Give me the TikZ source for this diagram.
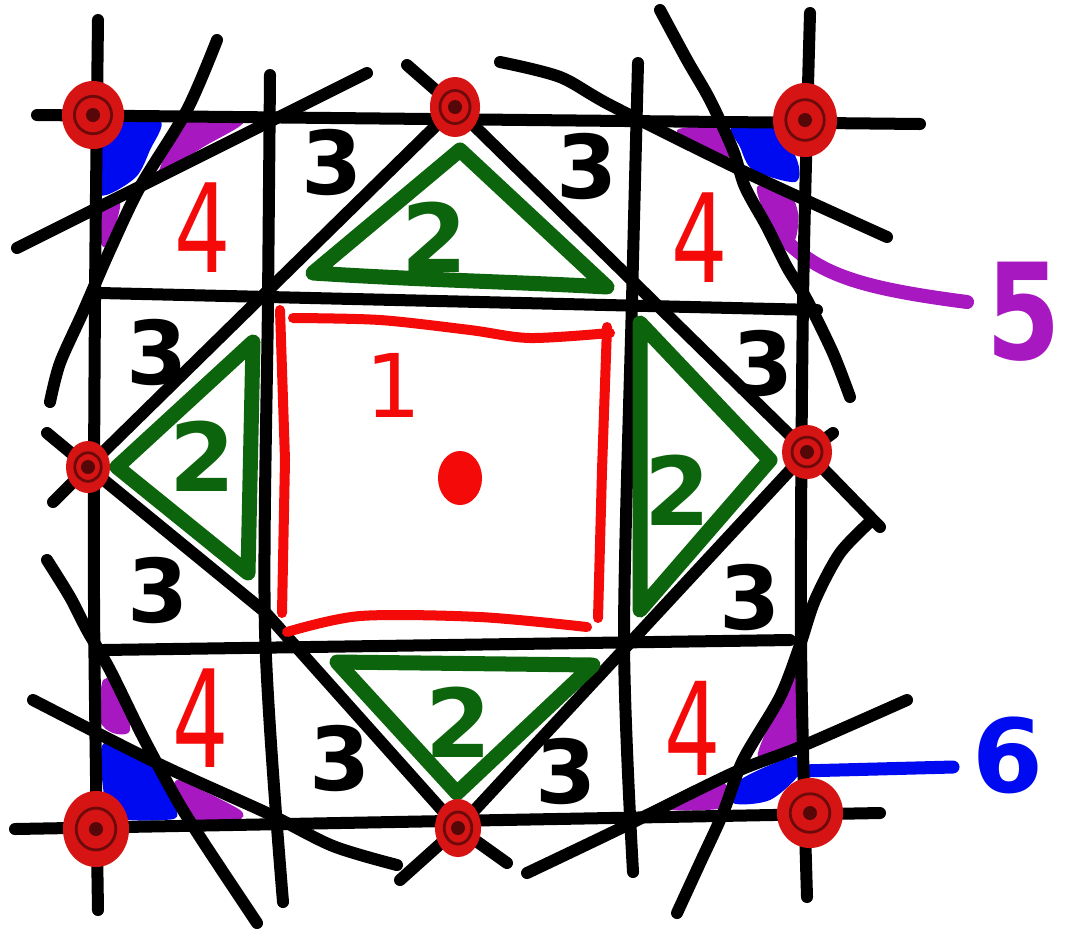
\documentclass[tikz,border=0pt]{standalone}
\usepackage{fontspec}
\setmainfont{DejaVu Sans}
\definecolor{gdark}{RGB}{12,100,12}
\definecolor{glight}{RGB}{40,220,60}
\definecolor{rpen}{RGB}{245,10,10}
\definecolor{rdot}{RGB}{215,20,20}
\definecolor{rcore}{RGB}{110,10,10}
\definecolor{purp}{RGB}{168,24,192}
\definecolor{blu}{RGB}{0,10,240}
\begin{document}
\begin{tikzpicture}[x=0.01cm,y=-0.01cm,
  ink/.style={line width=0.12cm,line cap=round,line join=round,draw=black},
  grn/.style={line width=0.15cm,line cap=round,line join=round,draw=gdark},
  redpen/.style={line width=0.1cm,line cap=round,line join=round,draw=rpen},
  dig/.style={inner sep=0pt,outer sep=0pt},
  three/.style={dig,font=\fontsize{25}{25}\selectfont\bfseries,text=black},
  two/.style={dig,font=\fontsize{27}{27}\selectfont\bfseries,text=gdark},
  four/.style={dig,font=\fontsize{35}{35}\selectfont,text=rpen,xscale=0.72},
  patchp/.style={fill=purp},
  patchb/.style={fill=blu}]
\useasboundingbox (0,0) rectangle (1068,930);
\fill[white] (0,0) rectangle (1068,930);

% key points
\coordinate (T) at (455,107);
\coordinate (L) at (88,467);
\coordinate (B) at (458,828);
\coordinate (R) at (807,452);
\coordinate (TL) at (93,115);
\coordinate (TR) at (805,120);
\coordinate (BL) at (96,829);
\coordinate (BR) at (810,813);

% coloured patches
\fill[patchb] plot[smooth cycle] coordinates {(105,125) (160,121) (150,150) (135,178) (100,195) (96,150)};
\fill[patchp] plot[smooth cycle] coordinates {(160,168) (182,124) (243,122) (205,146) (162,172)};
\fill[patchp] plot[smooth cycle] coordinates {(103,207) (120,203) (114,230) (106,247) (100,240)};

\fill[patchp] plot[smooth cycle] coordinates {(677,130) (723,128) (732,156) (703,152)};
\fill[patchb] plot[smooth cycle] coordinates {(732,127) (773,123) (797,160) (795,182) (753,170) (740,147)};
\fill[patchp] plot[smooth cycle] coordinates {(757,187) (787,190) (798,213) (795,240) (780,247) (770,227)};

\fill[patchp] plot[smooth cycle] coordinates {(103,680) (120,687) (130,730) (113,733) (100,720)};
\fill[patchb] plot[smooth cycle] coordinates {(104,743) (147,760) (177,812) (163,820) (113,817) (103,787)};
\fill[patchp] plot[smooth cycle] coordinates {(177,780) (193,786) (240,810) (237,820) (190,820) (173,793)};

\fill[patchp] plot[smooth cycle] coordinates {(792,672) (805,680) (805,735) (790,748) (758,757) (772,718)};
\fill[patchb] plot[smooth cycle] coordinates {(740,780) (793,757) (800,773) (770,800) (733,803)};
\fill[patchp] plot[smooth cycle] coordinates {(677,800) (723,783) (727,807) (673,810)};

% leaders to 5 and 6
\coordinate (p5) at (783,238);
\coordinate (e5) at (967,302);
\draw[line width=0.14cm,line cap=round,purp] (p5) .. controls (820,275) and (860,288) .. (e5);
\coordinate (p6) at (800,771);
\coordinate (e6) at (953,767);
\draw[line width=0.13cm,line cap=round,blu] (p6) -- (e6);

% grid lines
\draw[ink] (37,115) -- (920,124);
\draw[ink] (100,293) -- (817,310);
\draw[ink] (103,650) -- (790,640);
\draw[ink] (15,829) -- (880,813);
\draw[ink] plot[smooth] coordinates {(98,20) (95,300) (94,600) (98,910)};
\draw[ink] plot[smooth] coordinates {(270,75) (268,300) (265,630) (283,902)};
\draw[ink] plot[smooth] coordinates {(638,63) (632,300) (624,640) (633,872)};
\draw[ink] plot[smooth] coordinates {(810,13) (803,300) (801,640) (807,897)};

% oblique straight-ish lines
\draw[ink] (17,248) -- (367,73);
\draw[ink] plot[smooth] coordinates {(500,62) (560,77) (612,106) (747,173) (887,237)};
\draw[ink] plot[smooth] coordinates {(33,700) (157,763) (267,813) (333,846) (397,865)};
\draw[ink] plot[smooth] coordinates {(527,873) (617,830) (733,773) (800,747) (907,700)};

% curves
\draw[ink] plot[smooth] coordinates {(217,40) (187,110) (140,187) (110,250) (83,312) (60,363) (50,402)};
\draw[ink] plot[smooth] coordinates {(660,10) (687,60) (710,100) (733,150) (745,187) (767,227) (787,267) (807,300) (833,353) (850,397)};
\draw[ink] plot[smooth] coordinates {(47,560) (70,597) (87,630) (110,670) (143,737) (177,800) (200,837) (233,887) (257,923)};
\draw[ink] plot[smooth] coordinates {(872,520) (840,553) (815,600) (800,645) (780,697) (743,760) (723,813) (700,863) (677,913)};

% diamond
\coordinate (Ts) at (407,65);
\coordinate (Rc) at (880,527);
\coordinate (Ls) at (53,502);
\coordinate (Lt) at (47,433);
\coordinate (Bs) at (507,863);
\coordinate (Rs) at (833,433);
\coordinate (Bt) at (400,880);
\draw[ink] (Ts) -- (T) -- (R) -- (Rc);
\draw[ink] (T) -- (L) -- (Ls);
\draw[ink] (Lt) -- (L) -- (265,612) -- (B) -- (Bs);
\draw[ink] (Rs) -- (R) -- (B) -- (Bt);

% green triangles
\draw[grn] (460,150) -- (313,273) .. controls (420,280) and (520,282) .. (607,287) -- cycle;
\draw[grn] (117,467) -- (253,342) -- (248,573) -- cycle;
\draw[grn] (640,323) -- (770,460) -- (640,610) -- cycle;
\draw[grn] (337,662) -- (593,665) -- (457,793) -- cycle;

% red square
\draw[redpen] plot[smooth] coordinates {(293,318) (380,320) (470,330) (530,338) (610,333)};
\draw[redpen] (280,310) -- (285,460) -- (282,613);
\draw[redpen] (607,327) -- (602,470) -- (598,618);
\draw[redpen] plot[smooth] coordinates {(287,632) (360,616) (480,617) (587,627)};
\fill[rpen] (460,478) ellipse [x radius=0.22cm, y radius=0.27cm];

% red dots
\foreach \p/\rx/\ry in {TL/0.31/0.34, TR/0.32/0.37, BL/0.33/0.38, BR/0.33/0.35, T/0.25/0.30, L/0.22/0.26, B/0.23/0.29, R/0.25/0.27}{
  \fill[rdot] (\p) ellipse [x radius=\rx cm, y radius=\ry cm];
  \draw[rcore,line width=0.8pt] (\p) ellipse [x radius=0.6*\rx cm, y radius=0.55*\ry cm];
  \fill[black,opacity=0.6] (\p) circle [radius=0.07cm];
}

% labels
\node[three] (t1) at (332,162) {3};
\node[three] (t2) at (587,166) {3};
\node[three] (t3) at (157,352) {3};
\node[three] (t4) at (158,590) {3};
\node[three] (t5) at (763,363) {3};
\node[three] (t6) at (750,597) {3};
\node[three] (t7) at (340,758) {3};
\node[three] (t8) at (566,771) {3};
\node[two] (w1) at (435,237) {2};
\node[two] (w2) at (203,456) {2};
\node[two] (w3) at (678,490) {2};
\node[two] (w4) at (459,722) {2};
\node[four] (f1) at (203,228) {4};
\node[four] (f2) at (700,238) {4};
\node[four,yscale=1.1] (f3) at (201,718) {4};
\node[four,yscale=1.05] (f4) at (693,728) {4};
\node[dig,font=\fontsize{25}{25}\selectfont,text=rpen] (one) at (393,385) {1};
\node[dig,font=\fontsize{38}{38}\selectfont\bfseries,text=purp,xscale=0.8] (five) at (1024,312) {5};
\node[dig,font=\fontsize{29}{29}\selectfont\bfseries,text=blu] (six) at (1008,755) {6};
\end{tikzpicture}
\end{document}
